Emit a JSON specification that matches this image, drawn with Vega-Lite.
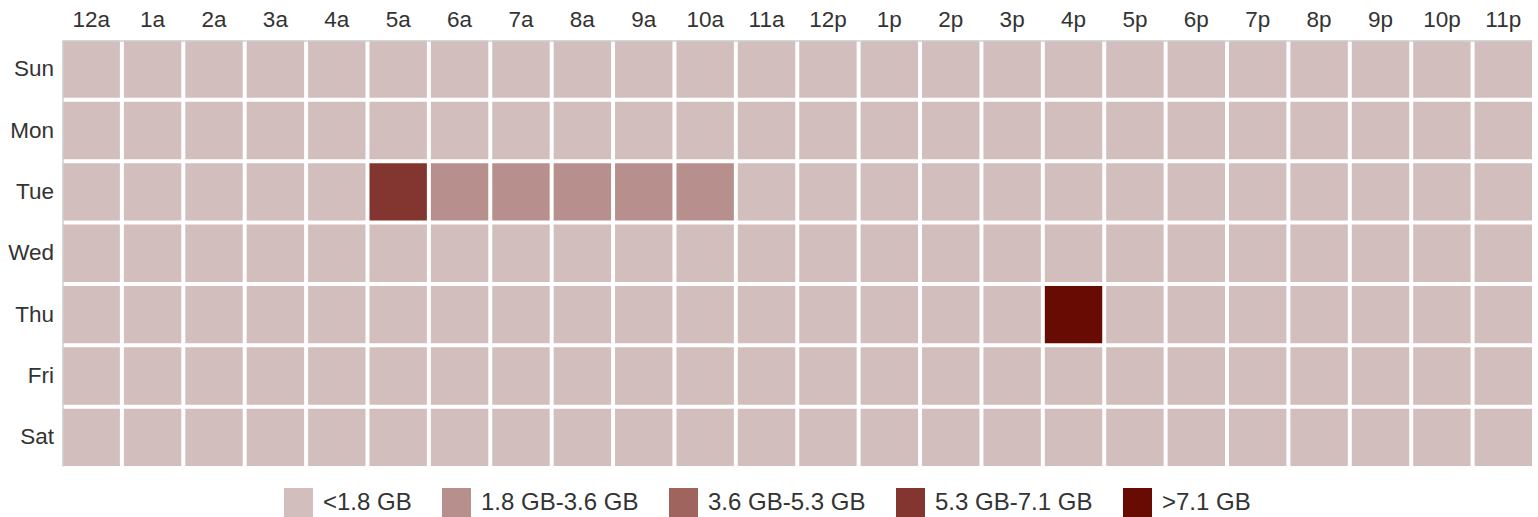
{
  "$schema": "https://vega.github.io/schema/vega-lite/v6.json",
  "width": 1469.5,
  "height": 425.5,
  "autosize": {"type": "none"},
  "padding": {"left": 62.5, "top": 40.5, "right": 6, "bottom": 51},
  "config": {"view": {"stroke": null}, "font": "Liberation Sans"},
  "data": {"values": [
    {"day":"Sun","hour":"12a","usage":"<1.8 GB"},{"day":"Sun","hour":"1a","usage":"<1.8 GB"},{"day":"Sun","hour":"2a","usage":"<1.8 GB"},{"day":"Sun","hour":"3a","usage":"<1.8 GB"},{"day":"Sun","hour":"4a","usage":"<1.8 GB"},{"day":"Sun","hour":"5a","usage":"<1.8 GB"},{"day":"Sun","hour":"6a","usage":"<1.8 GB"},{"day":"Sun","hour":"7a","usage":"<1.8 GB"},{"day":"Sun","hour":"8a","usage":"<1.8 GB"},{"day":"Sun","hour":"9a","usage":"<1.8 GB"},{"day":"Sun","hour":"10a","usage":"<1.8 GB"},{"day":"Sun","hour":"11a","usage":"<1.8 GB"},{"day":"Sun","hour":"12p","usage":"<1.8 GB"},{"day":"Sun","hour":"1p","usage":"<1.8 GB"},{"day":"Sun","hour":"2p","usage":"<1.8 GB"},{"day":"Sun","hour":"3p","usage":"<1.8 GB"},{"day":"Sun","hour":"4p","usage":"<1.8 GB"},{"day":"Sun","hour":"5p","usage":"<1.8 GB"},{"day":"Sun","hour":"6p","usage":"<1.8 GB"},{"day":"Sun","hour":"7p","usage":"<1.8 GB"},{"day":"Sun","hour":"8p","usage":"<1.8 GB"},{"day":"Sun","hour":"9p","usage":"<1.8 GB"},{"day":"Sun","hour":"10p","usage":"<1.8 GB"},{"day":"Sun","hour":"11p","usage":"<1.8 GB"},
    {"day":"Mon","hour":"12a","usage":"<1.8 GB"},{"day":"Mon","hour":"1a","usage":"<1.8 GB"},{"day":"Mon","hour":"2a","usage":"<1.8 GB"},{"day":"Mon","hour":"3a","usage":"<1.8 GB"},{"day":"Mon","hour":"4a","usage":"<1.8 GB"},{"day":"Mon","hour":"5a","usage":"<1.8 GB"},{"day":"Mon","hour":"6a","usage":"<1.8 GB"},{"day":"Mon","hour":"7a","usage":"<1.8 GB"},{"day":"Mon","hour":"8a","usage":"<1.8 GB"},{"day":"Mon","hour":"9a","usage":"<1.8 GB"},{"day":"Mon","hour":"10a","usage":"<1.8 GB"},{"day":"Mon","hour":"11a","usage":"<1.8 GB"},{"day":"Mon","hour":"12p","usage":"<1.8 GB"},{"day":"Mon","hour":"1p","usage":"<1.8 GB"},{"day":"Mon","hour":"2p","usage":"<1.8 GB"},{"day":"Mon","hour":"3p","usage":"<1.8 GB"},{"day":"Mon","hour":"4p","usage":"<1.8 GB"},{"day":"Mon","hour":"5p","usage":"<1.8 GB"},{"day":"Mon","hour":"6p","usage":"<1.8 GB"},{"day":"Mon","hour":"7p","usage":"<1.8 GB"},{"day":"Mon","hour":"8p","usage":"<1.8 GB"},{"day":"Mon","hour":"9p","usage":"<1.8 GB"},{"day":"Mon","hour":"10p","usage":"<1.8 GB"},{"day":"Mon","hour":"11p","usage":"<1.8 GB"},
    {"day":"Tue","hour":"12a","usage":"<1.8 GB"},{"day":"Tue","hour":"1a","usage":"<1.8 GB"},{"day":"Tue","hour":"2a","usage":"<1.8 GB"},{"day":"Tue","hour":"3a","usage":"<1.8 GB"},{"day":"Tue","hour":"4a","usage":"<1.8 GB"},{"day":"Tue","hour":"5a","usage":"5.3 GB-7.1 GB"},{"day":"Tue","hour":"6a","usage":"1.8 GB-3.6 GB"},{"day":"Tue","hour":"7a","usage":"1.8 GB-3.6 GB"},{"day":"Tue","hour":"8a","usage":"1.8 GB-3.6 GB"},{"day":"Tue","hour":"9a","usage":"1.8 GB-3.6 GB"},{"day":"Tue","hour":"10a","usage":"1.8 GB-3.6 GB"},{"day":"Tue","hour":"11a","usage":"<1.8 GB"},{"day":"Tue","hour":"12p","usage":"<1.8 GB"},{"day":"Tue","hour":"1p","usage":"<1.8 GB"},{"day":"Tue","hour":"2p","usage":"<1.8 GB"},{"day":"Tue","hour":"3p","usage":"<1.8 GB"},{"day":"Tue","hour":"4p","usage":"<1.8 GB"},{"day":"Tue","hour":"5p","usage":"<1.8 GB"},{"day":"Tue","hour":"6p","usage":"<1.8 GB"},{"day":"Tue","hour":"7p","usage":"<1.8 GB"},{"day":"Tue","hour":"8p","usage":"<1.8 GB"},{"day":"Tue","hour":"9p","usage":"<1.8 GB"},{"day":"Tue","hour":"10p","usage":"<1.8 GB"},{"day":"Tue","hour":"11p","usage":"<1.8 GB"},
    {"day":"Wed","hour":"12a","usage":"<1.8 GB"},{"day":"Wed","hour":"1a","usage":"<1.8 GB"},{"day":"Wed","hour":"2a","usage":"<1.8 GB"},{"day":"Wed","hour":"3a","usage":"<1.8 GB"},{"day":"Wed","hour":"4a","usage":"<1.8 GB"},{"day":"Wed","hour":"5a","usage":"<1.8 GB"},{"day":"Wed","hour":"6a","usage":"<1.8 GB"},{"day":"Wed","hour":"7a","usage":"<1.8 GB"},{"day":"Wed","hour":"8a","usage":"<1.8 GB"},{"day":"Wed","hour":"9a","usage":"<1.8 GB"},{"day":"Wed","hour":"10a","usage":"<1.8 GB"},{"day":"Wed","hour":"11a","usage":"<1.8 GB"},{"day":"Wed","hour":"12p","usage":"<1.8 GB"},{"day":"Wed","hour":"1p","usage":"<1.8 GB"},{"day":"Wed","hour":"2p","usage":"<1.8 GB"},{"day":"Wed","hour":"3p","usage":"<1.8 GB"},{"day":"Wed","hour":"4p","usage":"<1.8 GB"},{"day":"Wed","hour":"5p","usage":"<1.8 GB"},{"day":"Wed","hour":"6p","usage":"<1.8 GB"},{"day":"Wed","hour":"7p","usage":"<1.8 GB"},{"day":"Wed","hour":"8p","usage":"<1.8 GB"},{"day":"Wed","hour":"9p","usage":"<1.8 GB"},{"day":"Wed","hour":"10p","usage":"<1.8 GB"},{"day":"Wed","hour":"11p","usage":"<1.8 GB"},
    {"day":"Thu","hour":"12a","usage":"<1.8 GB"},{"day":"Thu","hour":"1a","usage":"<1.8 GB"},{"day":"Thu","hour":"2a","usage":"<1.8 GB"},{"day":"Thu","hour":"3a","usage":"<1.8 GB"},{"day":"Thu","hour":"4a","usage":"<1.8 GB"},{"day":"Thu","hour":"5a","usage":"<1.8 GB"},{"day":"Thu","hour":"6a","usage":"<1.8 GB"},{"day":"Thu","hour":"7a","usage":"<1.8 GB"},{"day":"Thu","hour":"8a","usage":"<1.8 GB"},{"day":"Thu","hour":"9a","usage":"<1.8 GB"},{"day":"Thu","hour":"10a","usage":"<1.8 GB"},{"day":"Thu","hour":"11a","usage":"<1.8 GB"},{"day":"Thu","hour":"12p","usage":"<1.8 GB"},{"day":"Thu","hour":"1p","usage":"<1.8 GB"},{"day":"Thu","hour":"2p","usage":"<1.8 GB"},{"day":"Thu","hour":"3p","usage":"<1.8 GB"},{"day":"Thu","hour":"4p","usage":">7.1 GB"},{"day":"Thu","hour":"5p","usage":"<1.8 GB"},{"day":"Thu","hour":"6p","usage":"<1.8 GB"},{"day":"Thu","hour":"7p","usage":"<1.8 GB"},{"day":"Thu","hour":"8p","usage":"<1.8 GB"},{"day":"Thu","hour":"9p","usage":"<1.8 GB"},{"day":"Thu","hour":"10p","usage":"<1.8 GB"},{"day":"Thu","hour":"11p","usage":"<1.8 GB"},
    {"day":"Fri","hour":"12a","usage":"<1.8 GB"},{"day":"Fri","hour":"1a","usage":"<1.8 GB"},{"day":"Fri","hour":"2a","usage":"<1.8 GB"},{"day":"Fri","hour":"3a","usage":"<1.8 GB"},{"day":"Fri","hour":"4a","usage":"<1.8 GB"},{"day":"Fri","hour":"5a","usage":"<1.8 GB"},{"day":"Fri","hour":"6a","usage":"<1.8 GB"},{"day":"Fri","hour":"7a","usage":"<1.8 GB"},{"day":"Fri","hour":"8a","usage":"<1.8 GB"},{"day":"Fri","hour":"9a","usage":"<1.8 GB"},{"day":"Fri","hour":"10a","usage":"<1.8 GB"},{"day":"Fri","hour":"11a","usage":"<1.8 GB"},{"day":"Fri","hour":"12p","usage":"<1.8 GB"},{"day":"Fri","hour":"1p","usage":"<1.8 GB"},{"day":"Fri","hour":"2p","usage":"<1.8 GB"},{"day":"Fri","hour":"3p","usage":"<1.8 GB"},{"day":"Fri","hour":"4p","usage":"<1.8 GB"},{"day":"Fri","hour":"5p","usage":"<1.8 GB"},{"day":"Fri","hour":"6p","usage":"<1.8 GB"},{"day":"Fri","hour":"7p","usage":"<1.8 GB"},{"day":"Fri","hour":"8p","usage":"<1.8 GB"},{"day":"Fri","hour":"9p","usage":"<1.8 GB"},{"day":"Fri","hour":"10p","usage":"<1.8 GB"},{"day":"Fri","hour":"11p","usage":"<1.8 GB"},
    {"day":"Sat","hour":"12a","usage":"<1.8 GB"},{"day":"Sat","hour":"1a","usage":"<1.8 GB"},{"day":"Sat","hour":"2a","usage":"<1.8 GB"},{"day":"Sat","hour":"3a","usage":"<1.8 GB"},{"day":"Sat","hour":"4a","usage":"<1.8 GB"},{"day":"Sat","hour":"5a","usage":"<1.8 GB"},{"day":"Sat","hour":"6a","usage":"<1.8 GB"},{"day":"Sat","hour":"7a","usage":"<1.8 GB"},{"day":"Sat","hour":"8a","usage":"<1.8 GB"},{"day":"Sat","hour":"9a","usage":"<1.8 GB"},{"day":"Sat","hour":"10a","usage":"<1.8 GB"},{"day":"Sat","hour":"11a","usage":"<1.8 GB"},{"day":"Sat","hour":"12p","usage":"<1.8 GB"},{"day":"Sat","hour":"1p","usage":"<1.8 GB"},{"day":"Sat","hour":"2p","usage":"<1.8 GB"},{"day":"Sat","hour":"3p","usage":"<1.8 GB"},{"day":"Sat","hour":"4p","usage":"<1.8 GB"},{"day":"Sat","hour":"5p","usage":"<1.8 GB"},{"day":"Sat","hour":"6p","usage":"<1.8 GB"},{"day":"Sat","hour":"7p","usage":"<1.8 GB"},{"day":"Sat","hour":"8p","usage":"<1.8 GB"},{"day":"Sat","hour":"9p","usage":"<1.8 GB"},{"day":"Sat","hour":"10p","usage":"<1.8 GB"},{"day":"Sat","hour":"11p","usage":"<1.8 GB"}
  ]},
  "mark": {"type": "rect"},
  "encoding": {
    "x": {
      "field": "hour", "type": "ordinal",
      "sort": ["12a","1a","2a","3a","4a","5a","6a","7a","8a","9a","10a","11a","12p","1p","2p","3p","4p","5p","6p","7p","8p","9p","10p","11p"],
      "scale": {"paddingInner": 0.065, "paddingOuter": 0},
      "axis": {"orient": "top", "title": null, "ticks": false, "labelAngle": 0, "labelFontSize": 22.5, "labelColor": "#333333", "labelPadding": 9, "domainColor": "#cfcfcf", "domainWidth": 1.5}
    },
    "y": {
      "field": "day", "type": "ordinal",
      "sort": ["Sun","Mon","Tue","Wed","Thu","Fri","Sat"],
      "scale": {"paddingInner": 0.066, "paddingOuter": 0},
      "axis": {"title": null, "ticks": false, "labelFontSize": 22.5, "labelColor": "#333333", "labelPadding": 9, "domainColor": "#cfcfcf", "domainWidth": 1.5}
    },
    "color": {
      "field": "usage", "type": "nominal",
      "scale": {"domain": ["<1.8 GB","1.8 GB-3.6 GB","3.6 GB-5.3 GB","5.3 GB-7.1 GB",">7.1 GB"], "range": ["#d3bebe","#b78f8c","#a0645f","#833630","#680b02"]},
      "legend": {"orient": "none", "direction": "horizontal", "legendX": 221.5, "legendY": 447.5, "title": null, "symbolType": "square", "symbolSize": 841, "symbolStrokeWidth": 0, "symbolOpacity": 1, "labelFontSize": 24, "labelColor": "#333333", "labelOffset": 10, "columnPadding": 30, "padding": 0}
    }
  }
}
